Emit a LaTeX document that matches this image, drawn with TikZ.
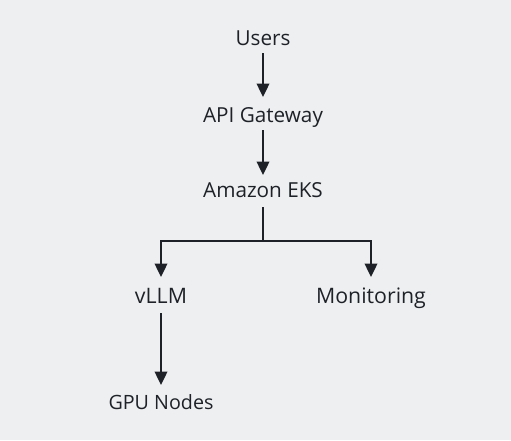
\documentclass[tikz,border=0pt]{standalone}
\usepackage{fontspec}
\setmainfont{Open Sans}
\usetikzlibrary{arrows.meta}
\definecolor{bg}{RGB}{238,239,240}
\definecolor{ink}{RGB}{30,34,40}
\begin{document}
\begin{tikzpicture}[x=1pt,y=-1pt,
  lbl/.style={text=ink, inner sep=0pt, text depth=0pt, text height=14.5pt, font=\fontsize{20.7}{24}\selectfont},
  big/.style={lbl, text height=15pt, font=\fontsize{21.3}{25}\selectfont},
  arr/.style={draw=ink, line width=2.4pt, -{Triangle[width=12.5pt,length=13.5pt]}},
  ln/.style={draw=ink, line width=2.4pt}]
\fill[bg] (0,0) rectangle (511,440);
\useasboundingbox (0,0) rectangle (511,440);
\node[lbl] (users) at (263,38) {Users};
\node[lbl] (api) at (263,115) {API Gateway};
\node[lbl] (eks) at (263,190) {Amazon EKS};
\node[big] (vllm) at (161,296) {vLLM};
\node[big] (mon) at (371,296) {Monitoring};
\node[lbl, text height=14pt, font=\fontsize{19.7}{23}\selectfont] (gpu) at (161,402) {GPU Nodes};
\coordinate (j) at (263,241);
\draw[arr] ([yshift=-15]users.center) -- ([yshift=18]api.center);
\draw[arr] ([yshift=-15]api.center) -- ([yshift=15]eks.center);
\draw[ln] ([yshift=-17]eks.center) -- (j);
\draw[arr] (j) -| ([yshift=19]vllm.center);
\draw[arr] (j) -| ([yshift=19]mon.center);
\draw[arr] ([yshift=-17]vllm.center) -- ([yshift=17]gpu.center);
\end{tikzpicture}
\end{document}
